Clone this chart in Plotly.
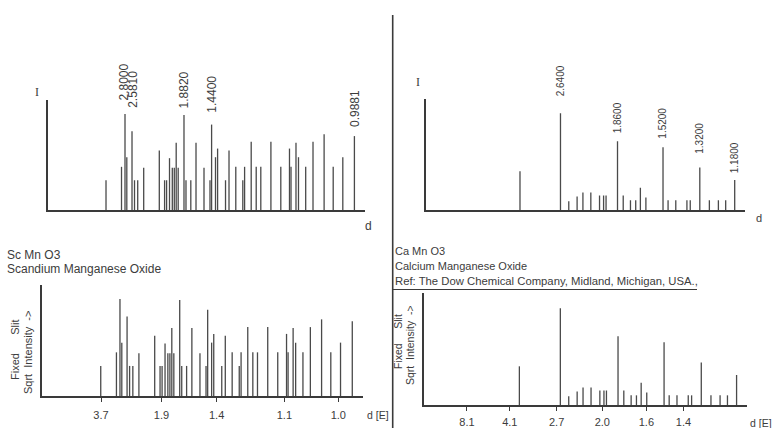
import plotly.graph_objects as go

W, H = 772, 428

# ---------------- ScMnO3 (left panels) ----------------
sc_pos = [28.30, 33.19, 34.29, 34.86, 36.50, 37.29, 38.30, 40.19, 45.11, 46.78,
          47.41, 48.33, 49.21, 49.84, 50.44, 51.07, 52.90, 53.53, 55.05, 56.69,
          59.21, 61.10, 61.61, 62.84, 63.50, 66.00, 67.10, 69.24, 71.45, 72.02,
          74.10, 75.68, 77.13, 80.32, 83.44, 86.18, 86.66, 88.23, 89.02, 91.29,
          93.60, 97.10, 99.97, 103.00, 106.66]
sc_int = [31, 45, 100, 55, 82, 31, 31, 44, 62, 31,
          31, 54, 44, 44, 70, 44, 99, 31, 31, 70,
          44, 31, 89, 55, 64, 31, 62, 45, 31, 45,
          71, 45, 45, 71, 45, 64, 45, 70, 55, 45,
          71, 79, 45, 55, 77]
sc_label_pos = [34.29, 36.50, 52.90, 61.61, 106.66]
sc_label_text = ["2.8000", "2.5810", "1.8820", "1.4400", "0.9881"]
sc_tick_vals = [28.38, 47.2, 64.4, 85.5, 102.3]
sc_tick_text = ["3.7", "1.9", "1.4", "1.1", "1.0"]

# ---------------- CaMnO3 (right panels) ----------------
ca_pos = [24.45, 34.95, 37.10, 39.26, 40.77, 42.82, 45.08, 46.13, 46.77, 49.74,
          51.22, 53.10, 54.46, 55.67, 57.10, 61.54, 62.85, 64.85, 67.74, 68.60,
          71.08, 73.56, 75.90, 77.79, 80.13]
ca_int = [40, 100, 9, 14, 18, 18, 15, 15, 15, 71,
          15, 10, 10, 23, 13, 65, 10, 10, 10, 10,
          44, 10, 10, 10, 31]
ca_label_pos = [34.95, 49.74, 61.54, 71.08, 80.13]
ca_label_text = ["2.6400", "1.8600", "1.5200", "1.3200", "1.1800"]
ca_tick_vals = [11.0, 22.0, 34.0, 45.7, 57.0, 66.5]
ca_tick_text = ["8.1", "4.1", "2.7", "2.0", "1.6", "1.4"]

# label offsets in pixels above stick tops (layout only)
sc_label_gap = [11, 21, 5, 10, 7]
sc_label_xshift = [-1, 1, 0, 0, 0]
ca_label_gap = [15, 6, 6, 12, 5]

STICK = "#4a4a4a"
AXIS = "#3a3a3a"
TXT = "#3c3c3c"
FONT = "Liberation Sans"
NB = "\u00a0"


def sticks(pos, inten):
    xs, ys = [], []
    for p, v in zip(pos, inten):
        xs += [p, p, None]
        ys += [0, v, None]
    return xs, ys


def px_x(p):
    return p / W


def px_y(p):
    return 1 - p / H


fig = go.Figure()

panels = [
    ("x", "y", sc_pos, sc_int),
    ("x2", "y2", sc_pos, sc_int),
    ("x3", "y3", ca_pos, ca_int),
    ("x4", "y4", ca_pos, ca_int),
]
for xa, ya, pos, inten in panels:
    xs, ys = sticks(pos, inten)
    fig.add_trace(go.Scatter(x=xs, y=ys, mode="lines", xaxis=xa, yaxis=ya,
                             line=dict(color=STICK, width=1.3),
                             hoverinfo="skip", showlegend=False))

base_x = dict(showline=True, linecolor=AXIS, linewidth=1.7, showgrid=False,
              zeroline=False, fixedrange=True)
base_y = dict(showline=True, linecolor=AXIS, linewidth=1.7, showgrid=False,
              zeroline=False, showticklabels=False, ticks="", fixedrange=True)

fig.update_layout(
    width=W, height=H, margin=dict(l=0, r=0, t=0, b=0),
    paper_bgcolor="white", plot_bgcolor="rgba(0,0,0,0)",
    showlegend=False,
    # top-left
    xaxis=dict(base_x, domain=[px_x(48), px_x(365)], range=[10, 110],
               anchor="y", showticklabels=False, ticks=""),
    yaxis=dict(base_y, domain=[px_y(210), px_y(100)], range=[0, 114.6], anchor="x"),
    # bottom-left
    xaxis2=dict(base_x, domain=[px_x(42), px_x(363)], range=[10, 110],
                anchor="y2", tickvals=sc_tick_vals, ticktext=sc_tick_text,
                ticks="outside", ticklen=4, tickcolor=AXIS, tickwidth=1,
                ticklabelstandoff=4,
                tickfont=dict(family=FONT, size=11, color=TXT)),
    yaxis2=dict(base_y, domain=[px_y(396), px_y(285)], range=[0, 114.4], anchor="x2"),
    # top-right
    xaxis3=dict(base_x, domain=[px_x(425.7), px_x(745)], range=[0, 82.8],
                anchor="y3", showticklabels=False, ticks=""),
    yaxis3=dict(base_y, domain=[px_y(210), px_y(99)], range=[0, 114.8], anchor="x3"),
    # bottom-right
    xaxis4=dict(base_x, domain=[px_x(424), px_x(747)], range=[0, 82.8],
                anchor="y4", tickvals=ca_tick_vals, ticktext=ca_tick_text,
                ticks="outside", ticklen=4, tickcolor=AXIS, tickwidth=1,
                ticklabelstandoff=2,
                tickfont=dict(family=FONT, size=11, color=TXT)),
    yaxis4=dict(base_y, domain=[px_y(405), px_y(293)], range=[0, 115.8], anchor="x4"),
)

ann = []
for p, t, g, s in zip(sc_label_pos, sc_label_text, sc_label_gap, sc_label_xshift):
    v = sc_int[sc_pos.index(p)]
    ann.append(dict(x=p, y=v, xref="x", yref="y", text=t, textangle=-90,
                    showarrow=False, xanchor="center", yanchor="bottom",
                    yshift=g, xshift=s,
                    font=dict(family=FONT, size=12, color=TXT)))
for p, t, g in zip(ca_label_pos, ca_label_text, ca_label_gap):
    v = ca_int[ca_pos.index(p)]
    ann.append(dict(x=p, y=v, xref="x3", yref="y3", text=t, textangle=-90,
                    showarrow=False, xanchor="center", yanchor="bottom", yshift=g,
                    font=dict(family=FONT, size=10, color=TXT)))


def ptext(x, y, text, size=10.5, angle=0, xanchor="left", family=FONT):
    ann.append(dict(x=px_x(x), y=px_y(y), xref="paper", yref="paper", text=text,
                    showarrow=False, xanchor=xanchor, yanchor="middle",
                    textangle=angle, font=dict(family=family, size=size, color=TXT)))


ptext(37, 92, "I", size=12, xanchor="center", family="Liberation Serif")
ptext(368, 226, "d", size=12, xanchor="center")
ptext(418, 82, "I", size=12, xanchor="center", family="Liberation Serif")
ptext(759, 218, "d", size=11, xanchor="center")
ptext(365, 415, "d [E]", size=10.5)
ptext(748, 423, "d [E]", size=10.5)

ptext(5, 255, "Sc Mn O3", size=12)
ptext(5, 269, "Scandium Manganese Oxide", size=12)
ptext(15, 350, "Fixed" + NB * 6 + "Slit", size=11, angle=-90, xanchor="center")
ptext(28, 352, "Sqrt" + NB * 2 + "Intensity" + NB * 2 + "->", size=11, angle=-90,
      xanchor="center")

ptext(393, 251, "Ca Mn O3", size=11)
ptext(393, 266, "Calcium Manganese Oxide", size=11)
ptext(393, 281, "Ref: The Dow Chemical Company, Midland, Michigan, USA.,", size=11.3)
ptext(398, 342, "Fixed" + NB * 5 + "Slit", size=10.5, angle=-90, xanchor="center")
ptext(410, 345, "Sqrt" + NB * 2 + "Intensity" + NB * 2 + "->", size=10.5, angle=-90,
      xanchor="center")

fig.update_layout(annotations=ann)

fig.update_layout(shapes=[
    dict(type="line", xref="paper", yref="paper", x0=px_x(392.7), x1=px_x(392.7),
         y0=px_y(15), y1=px_y(428), line=dict(color=AXIS, width=1.6)),
    dict(type="line", xref="paper", yref="paper", x0=px_x(393), x1=px_x(697),
         y0=px_y(289.5), y1=px_y(289.5), line=dict(color=AXIS, width=1.2)),
])

fig.write_html("out.html",
               config={"displayModeBar": False, "staticPlot": True},
               post_script="document.body.style.margin='0';"
                           "document.body.style.overflow='hidden';")
